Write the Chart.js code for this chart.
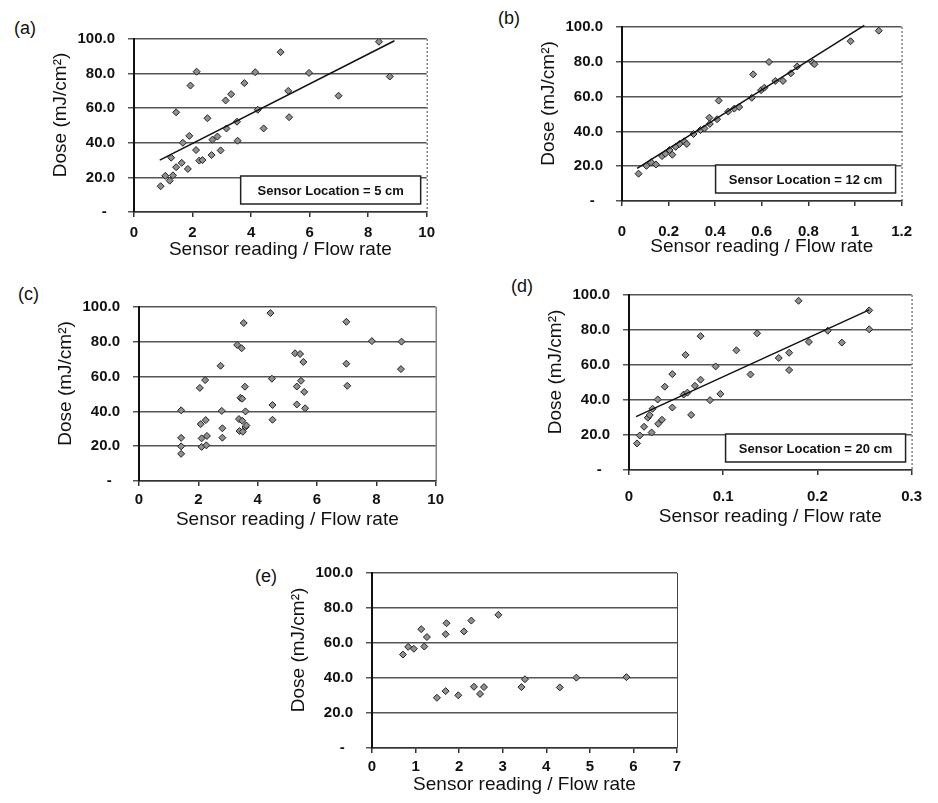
<!DOCTYPE html>
<html>
<head>
<meta charset="utf-8">
<title>Dose vs sensor reading / flow rate</title>
<script src="https://cdn.jsdelivr.net/npm/chart.js@4.4.1/dist/chart.umd.min.js"></script>
<style>
  html, body { margin: 0; padding: 0; background: #fff; }
  body { width: 938px; height: 803px; position: relative; overflow: hidden; font-family: "Liberation Sans", Arial, sans-serif; }
  .box { position: absolute; }
  .tag { position: absolute; font-size: 18px; color: #111; }
</style>
</head>
<body>
<script>
// ---- data ----
const xTitle = 'Sensor reading / Flow rate';
const yTitle = 'Dose (mJ/cm²)';
const panelNames = ['(a)', '(b)', '(c)', '(d)', '(e)'];
const legendTexts = ['Sensor Location = 5 cm', 'Sensor Location = 12 cm', null, 'Sensor Location = 20 cm', null];

const yTicks = [0, 20, 40, 60, 80, 100];
const yLabels = ['-  ', '20.0', '40.0', '60.0', '80.0', '100.0'];

// (a) 5 cm
const xTicksA = [0, 2, 4, 6, 8, 10];
const xLabelsA = ['0', '2', '4', '6', '8', '10'];
const xA = [0.91, 1.07, 1.22, 1.33, 1.27, 1.44, 1.63, 1.84, 1.44, 1.67, 1.89, 1.93, 2.14, 2.12, 2.23, 2.34, 2.51, 2.65, 2.68,
  2.85, 2.96, 3.16, 3.13, 3.32, 3.52, 3.54, 3.77, 4.23, 4.14, 4.43, 5.01, 5.27, 5.30, 5.98, 6.99, 8.37, 8.74];
const yA = [14.9, 20.9, 18.1, 21.2, 31.4, 25.9, 28.4, 24.9, 57.6, 40.0, 44.0, 73.1, 81.1, 35.8, 29.7, 30.0, 54.2, 32.9, 41.8,
  43.6, 35.6, 48.3, 64.5, 68.1, 52.2, 41.2, 74.5, 59.1, 80.8, 48.3, 92.4, 70.0, 54.8, 80.4, 67.2, 98.4, 78.3];
const trendXA = [0.88, 8.9];
const trendYA = [30, 99];

// (b) 12 cm
const xTicksB = [0, 0.2, 0.4, 0.6, 0.8, 1, 1.2];
const xLabelsB = ['0', '0.2', '0.4', '0.6', '0.8', '1', '1.2'];
const xB = [0.071, 0.105, 0.125, 0.146, 0.172, 0.186, 0.204, 0.216, 0.230, 0.247, 0.267, 0.278, 0.307, 0.337, 0.354, 0.375,
  0.377, 0.408, 0.415, 0.456, 0.482, 0.503, 0.557, 0.563, 0.597, 0.611, 0.631, 0.658, 0.691, 0.725, 0.752, 0.819, 0.826, 0.981, 1.102];
const yB = [15.7, 20.2, 22.3, 21.0, 25.8, 27.2, 29.3, 26.6, 31.1, 32.8, 34.3, 32.8, 38.5, 40.8, 41.7, 47.9,
  44.3, 47.0, 57.7, 51.4, 53.1, 54.0, 59.3, 72.8, 63.7, 65.1, 79.9, 69.0, 69.0, 73.4, 77.3, 79.5, 78.6, 91.8, 97.9];
const trendXB = [0.065, 1.04];
const trendYB = [18.8, 101];

// (c) no trend line
const xTicksC = [0, 2, 4, 6, 8, 10];
const xLabelsC = ['0', '2', '4', '6', '8', '10'];
const xC = [1.42, 1.42, 1.42, 1.42, 2.05, 2.23, 2.08, 2.25, 2.11, 2.29, 2.11, 2.27, 2.75, 2.79, 2.81, 2.81, 3.31, 3.46, 3.53, 3.42,
  3.48, 3.57, 3.59, 3.37, 3.48, 3.39, 3.50, 3.59, 3.62, 4.43, 4.48, 4.50, 4.50, 5.26, 5.43, 5.54, 5.32, 5.46, 5.57, 5.32, 5.60,
  6.99, 6.99, 7.02, 7.85, 8.85, 8.83];
const yC = [24.8, 19.9, 15.6, 40.6, 53.5, 58.0, 32.7, 35.0, 24.5, 25.9, 19.6, 20.5, 66.2, 40.3, 30.3, 24.9, 78.2, 76.3, 90.8, 47.8,
  47.3, 54.2, 40.0, 35.6, 34.6, 28.7, 28.3, 31.0, 31.9, 96.5, 58.8, 43.7, 35.2, 73.4, 73.0, 68.4, 54.3, 57.6, 51.2, 44.0, 41.8,
  91.5, 67.4, 54.7, 80.4, 80.1, 64.3];

// (d) 20 cm
const xTicksD = [0, 0.1, 0.2, 0.3];
const xLabelsD = ['0', '0.1', '0.2', '0.3'];
const xD = [0.0085, 0.0115, 0.016, 0.020, 0.024, 0.022, 0.025, 0.0305, 0.031, 0.035, 0.038, 0.046, 0.046, 0.058, 0.060, 0.062,
  0.066, 0.070, 0.076, 0.076, 0.086, 0.092, 0.097, 0.114, 0.129, 0.136, 0.159, 0.170, 0.170, 0.180, 0.191, 0.211, 0.226, 0.255, 0.255];
const yD = [15.2, 19.7, 24.7, 29.9, 21.4, 31.4, 35.0, 40.3, 26.4, 28.7, 47.6, 54.8, 35.7, 43.1, 65.8, 44.2,
  31.5, 48.1, 51.6, 76.5, 39.9, 59.2, 43.5, 68.4, 54.6, 78.1, 64.0, 67.0, 57.1, 96.7, 73.2, 79.6, 72.8, 91.2, 80.4];
const trendXD = [0.0075, 0.255];
const trendYD = [30.5, 91.5];

// (e) no trend line
const xTicksE = [0, 1, 2, 3, 4, 5, 6, 7];
const xLabelsE = ['0', '1', '2', '3', '4', '5', '6', '7'];
const xE = [0.71, 0.83, 0.96, 1.13, 1.26, 1.20, 1.49, 1.69, 1.71, 1.69, 1.98, 2.11, 2.28, 2.34, 2.48, 2.57, 2.90, 3.43, 3.51, 4.31, 4.69, 5.84];
const yE = [53.4, 57.8, 56.7, 67.9, 63.4, 58.0, 28.7, 32.5, 71.3, 65.0, 30.1, 66.6, 72.8, 35.0, 30.9, 34.8, 76.1, 34.8, 39.3, 34.6, 40.2, 40.5];

// ---- layout of each panel: plot rectangle in page pixels ----
const FONT = '"Liberation Sans", Arial, Helvetica, sans-serif';
const panels = [
  { x: xA, y: yA, tx: trendXA, ty: trendYA, ticks: xTicksA, labels: xLabelsA, max: 10,
    plot: [134, 29, 296, 183], tickPad: 7, axisH: 49, tag: [14, 18], dashed: true },
  { x: xB, y: yB, tx: trendXB, ty: trendYB, ticks: xTicksB, labels: xLabelsB, max: 1.2,
    plot: [622, 17, 295, 184], tickPad: 17, axisH: 57, tag: [498, 8], dashed: true },
  { x: xC, y: yC, tx: null, ty: null, ticks: xTicksC, labels: xLabelsC, max: 10,
    plot: [139, 297, 298, 184], tickPad: 5, axisH: 50, tag: [18, 284], dashed: false },
  { x: xD, y: yD, tx: trendXD, ty: trendYD, ticks: xTicksD, labels: xLabelsD, max: 0.3,
    plot: [629, 285, 294, 185], tickPad: 13, axisH: 58, tag: [511, 276], dashed: true },
  { x: xE, y: yE, tx: null, ty: null, ticks: xTicksE, labels: xLabelsE, max: 7,
    plot: [372, 563, 305, 185], tickPad: 5, axisH: 48, tag: [255, 566], dashed: false }
];

const Y_AXIS_W = 95, PAD_TOP = 12, PAD_RIGHT = 12;

// right frame edge + "Sensor Location" box
const panelDecor = {
  id: 'panelDecor',
  afterDraw(chart, args, opts) {
    const ctx = chart.ctx, ca = chart.chartArea;
    ctx.save();
    ctx.strokeStyle = '#444';
    ctx.lineWidth = 1;
    ctx.setLineDash(opts.dashed ? [2, 2] : []);
    ctx.beginPath();
    ctx.moveTo(ca.right + 0.5, ca.top);
    ctx.lineTo(ca.right + 0.5, ca.bottom);
    ctx.stroke();
    ctx.setLineDash([]);
    if (opts.legend) {
      const w = 180, h = 28;
      const bx = ca.right - 6 - w, by = ca.bottom - 8 - h;
      ctx.fillStyle = '#fff';
      ctx.fillRect(bx, by, w, h);
      ctx.strokeStyle = '#222';
      ctx.lineWidth = 1.5;
      ctx.strokeRect(bx, by, w, h);
      ctx.fillStyle = '#111';
      ctx.font = 'bold 13px ' + FONT;
      ctx.textAlign = 'center';
      ctx.textBaseline = 'middle';
      ctx.fillText(opts.legend, bx + w / 2, by + h / 2 + 1);
    }
    ctx.restore();
  }
};

function makePanel(p, i) {
  const [px, py, pw, ph] = p.plot;
  const W = pw + Y_AXIS_W + PAD_RIGHT;
  const H = ph + PAD_TOP + p.axisH;

  const div = document.createElement('div');
  div.className = 'box';
  div.style.left = (px - Y_AXIS_W) + 'px';
  div.style.top = (py - PAD_TOP) + 'px';
  div.style.width = W + 'px';
  div.style.height = H + 'px';
  const canvas = document.createElement('canvas');
  canvas.width = W;
  canvas.height = H;
  div.appendChild(canvas);
  document.body.appendChild(div);

  const tag = document.createElement('div');
  tag.className = 'tag';
  tag.style.left = p.tag[0] + 'px';
  tag.style.top = p.tag[1] + 'px';
  tag.textContent = panelNames[i];
  document.body.appendChild(tag);

  const datasets = [{
    type: 'scatter',
    data: p.x.map((v, k) => ({ x: v, y: p.y[k] })),
    pointStyle: 'rectRot',
    pointRadius: 3.5,
    backgroundColor: '#8f8f8f',
    borderColor: '#222',
    borderWidth: 1,
    order: 2
  }];
  if (p.tx) {
    datasets.push({
      type: 'line',
      data: p.tx.map((v, k) => ({ x: v, y: p.ty[k] })),
      borderColor: '#111',
      borderWidth: 1.5,
      pointRadius: 0,
      fill: false,
      clip: 6,
      order: 1
    });
  }

  new Chart(canvas.getContext('2d'), {
    type: 'scatter',
    data: { datasets: datasets },
    options: {
      responsive: false,
      animation: false,
      layout: { padding: { left: 0, top: PAD_TOP, right: PAD_RIGHT, bottom: 0 } },
      plugins: {
        legend: { display: false },
        tooltip: { enabled: false },
        panelDecor: { legend: legendTexts[i], dashed: p.dashed }
      },
      scales: {
        x: {
          type: 'linear',
          min: 0,
          max: p.max,
          afterBuildTicks: s => { s.ticks = p.ticks.map(v => ({ value: v })); },
          afterFit: s => { s.height = p.axisH; },
          ticks: {
            callback: (v, k) => p.labels[k],
            font: { family: FONT, size: 15, weight: 'bold' },
            color: '#111',
            padding: p.tickPad,
            maxRotation: 0
          },
          grid: { drawOnChartArea: false, color: '#333', lineWidth: 1.5, tickLength: 5 },
          border: { color: '#333', width: 1.5 },
          title: {
            display: true,
            text: xTitle,
            font: { family: FONT, size: 19 },
            color: '#111',
            padding: { top: 0, bottom: 0 }
          }
        },
        y: {
          min: 0,
          max: 100,
          afterBuildTicks: s => { s.ticks = yTicks.map(v => ({ value: v })); },
          afterFit: s => { s.width = Y_AXIS_W; },
          ticks: {
            callback: (v, k) => yLabels[k],
            font: { family: FONT, size: 15, weight: 'bold' },
            color: '#111',
            padding: 13
          },
          grid: { color: '#555', lineWidth: 1.5, tickLength: 6 },
          border: { color: '#111', width: 2 },
          title: {
            display: true,
            // leading spaces nudge the rotated title up a little, as in the scan
            text: '    ' + yTitle,
            font: { family: FONT, size: 19 },
            color: '#111',
            padding: { top: 10, bottom: 0 }
          }
        }
      }
    },
    plugins: [panelDecor]
  });
}

window.onload = function () {
  panels.forEach(makePanel);
};
</script>
</body>
</html>
